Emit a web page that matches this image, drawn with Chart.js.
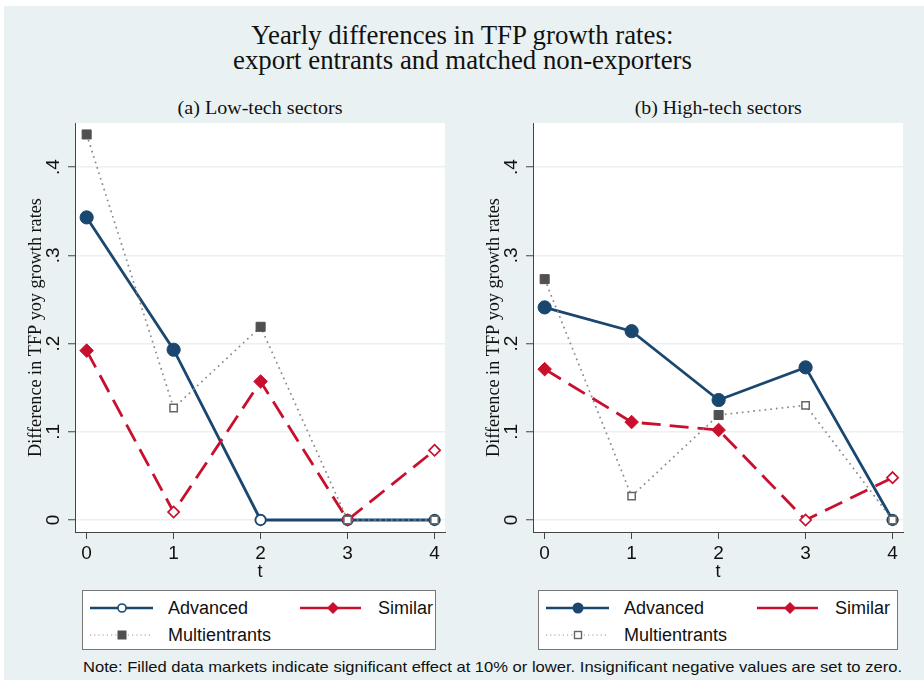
<!DOCTYPE html>
<html>
<head>
<meta charset="utf-8">
<script src="https://cdn.jsdelivr.net/npm/chart.js@4.4.1/dist/chart.umd.min.js"></script>
<style>
  html, body { margin: 0; padding: 0; background: #ffffff; }
  body { width: 924px; height: 680px; position: relative; overflow: hidden; }
  #bg { position: absolute; left: 4px; top: 6px; right: 0; bottom: 0; background: #e9f1f3; }
  .serif { font-family: "Liberation Serif", "Times New Roman", serif; color: #111; }
  .sans { font-family: "Liberation Sans", Arial, sans-serif; color: #111; }
  .line { position: absolute; text-align: center; white-space: nowrap; }
  .line span { display: inline-block; transform-origin: 50% 50%; }
  .t1 { font-size: 28px; line-height: 28px; }
  .sub { font-size: 19px; line-height: 20px; }
  .panel { position: absolute; top: 115px; width: 462px; height: 470px; }
  .legend { position: absolute; top: 590px; height: 60px; background: #fff; border: 1px solid #777; box-sizing: border-box; }
  .legend svg { position: absolute; left: 0; top: 0; }
  .legend span { position: absolute; font-size: 18px; line-height: 20px; }
  #note { position: absolute; left: 83px; top: 658px; font-size: 15px; line-height: 18px; white-space: nowrap; }
  #note span { display: inline-block; transform-origin: 0 50%; }
</style>
</head>
<body>
<div id="bg"></div>
<div class="line serif t1" style="left:0; width:924px; top:21px"><span data-w="422">Yearly differences in TFP growth rates:</span></div>
<div class="line serif t1" style="left:0; width:924px; top:46px"><span data-w="459">export entrants and matched non-exporters</span></div>
<div class="line serif sub" style="left:110px; width:300px; top:98px"><span data-w="165">(a) Low-tech sectors</span></div>
<div class="line serif sub" style="left:568px; width:300px; top:98px"><span data-w="167">(b) High-tech sectors</span></div>

<div class="panel" style="left:0px"><canvas id="lowChart" width="462" height="470"></canvas></div>
<div class="panel" style="left:458px"><canvas id="highChart" width="462" height="470"></canvas></div>

<div class="legend" id="legLow" style="left:82px; width:354px"></div>
<div class="legend" id="legHigh" style="left:538px; width:360px"></div>

<div id="note" class="sans"><span data-w="819">Note: Filled data markets indicate significant effect at 10% or lower. Insignificant negative values are set to zero.</span></div>

<script>
// Years since export entry
const tValues = [0, 1, 2, 3, 4];
const yTicks = [0, 0.1, 0.2, 0.3, 0.4];
const yTickLabels = ['0', '.1', '.2', '.3', '.4'];
const seriesNames = ['Advanced', 'Similar', 'Multientrants'];

// (a) Low-tech sectors
const lowAdvanced = [0.343, 0.193, 0, 0, 0];
const lowAdvancedSig = [true, true, false, false, false];
const lowSimilar = [0.192, 0.009, 0.157, 0, 0.079];
const lowSimilarSig = [true, false, true, false, false];
const lowMulti = [0.437, 0.127, 0.219, 0, 0];
const lowMultiSig = [true, false, true, false, false];

// (b) High-tech sectors
const highAdvanced = [0.241, 0.214, 0.136, 0.173, 0];
const highAdvancedSig = [true, true, true, true, false];
const highSimilar = [0.171, 0.111, 0.102, 0, 0.048];
const highSimilarSig = [true, true, true, false, false];
const highMulti = [0.273, 0.027, 0.119, 0.130, 0];
const highMultiSig = [true, false, true, false, false];

const NAVY = '#1a476f';
const RED = '#c8102e';
const GRAY_LINE = '#8a8a8a';
const GRAY_MARK = '#505050';
const SANS = '"Liberation Sans", Arial, sans-serif';
const SERIF = '"Liberation Serif", "Times New Roman", serif';

function pts(vals) { return tValues.map((t, i) => ({ x: t, y: vals[i] })); }

function advancedSet(vals, sig) {
  return {
    label: seriesNames[0], data: pts(vals), order: 3,
    borderColor: NAVY, borderWidth: 2.8,
    pointStyle: 'circle',
    pointRadius: sig.map(s => s ? 6.6 : 5.2),
    pointBorderWidth: sig.map(s => s ? 1 : 1.9),
    pointBorderColor: NAVY,
    pointBackgroundColor: sig.map(s => s ? NAVY : '#ffffff')
  };
}
function similarSet(vals, sig) {
  return {
    label: seriesNames[1], data: pts(vals), order: 2,
    borderColor: RED, borderWidth: 2.8, borderDash: [19, 9],
    pointStyle: 'rectRot',
    pointRadius: sig.map(s => s ? 6.8 : 5.6),
    pointBorderWidth: sig.map(s => s ? 1 : 1.7),
    pointBorderColor: RED,
    pointBackgroundColor: sig.map(s => s ? RED : '#ffffff')
  };
}
function multiSet(vals, sig) {
  return {
    label: seriesNames[2], data: pts(vals), order: 1,
    borderColor: GRAY_LINE, borderWidth: 1.7, borderDash: [1.7, 4],
    pointStyle: 'rect',
    pointRadius: sig.map(s => s ? 6.4 : 5.2),
    pointBorderWidth: sig.map(s => s ? 1 : 1.5),
    pointBorderColor: sig.map(s => s ? GRAY_MARK : '#666666'),
    pointBackgroundColor: sig.map(s => s ? GRAY_MARK : '#ffffff')
  };
}

// White plot region and rotated y tick labels
const panelPlugin = {
  id: 'panelDecor',
  beforeDraw(chart) {
    const a = chart.chartArea, ctx = chart.ctx;
    ctx.save();
    ctx.fillStyle = '#ffffff';
    ctx.fillRect(a.left, a.top, a.right - a.left, a.bottom - a.top);
    ctx.restore();
  },
  afterDraw(chart) {
    const ys = chart.scales.y, ctx = chart.ctx;
    ctx.save();
    ctx.fillStyle = '#111';
    ctx.font = '19px ' + SANS;
    ctx.textAlign = 'center';
    ctx.textBaseline = 'middle';
    yTicks.forEach((v, i) => {
      const py = ys.getPixelForValue(v);
      ctx.save();
      ctx.translate(ys.right - 21, py);
      ctx.rotate(-Math.PI / 2);
      ctx.fillText(yTickLabels[i], 0, 0);
      ctx.restore();
    });
    ctx.restore();
  }
};

function makeChart(id, datasets) {
  return new Chart(document.getElementById(id), {
    type: 'line',
    data: { datasets },
    plugins: [panelPlugin],
    options: {
      responsive: false,
      animation: false,
      events: [],
      layout: { padding: { top: 8, right: 17, left: 0, bottom: 0 } },
      plugins: { legend: { display: false }, tooltip: { enabled: false } },
      scales: {
        x: {
          type: 'linear', min: -0.134, max: 4.12,
          afterBuildTicks(s) { s.ticks = tValues.map(v => ({ value: v })); },
          afterFit(s) { s.height = 53; },
          grid: { drawOnChartArea: false, tickLength: 7, tickColor: '#444', tickWidth: 1 },
          border: { color: '#444', width: 1 },
          ticks: { font: { family: SANS, size: 19 }, color: '#111', padding: 3, maxRotation: 0,
                   callback: v => String(v) },
          title: { display: true, text: 't', font: { family: SANS, size: 18 }, color: '#111',
                   padding: { top: 0, bottom: 2 } }
        },
        y: {
          type: 'linear', min: -0.0136, max: 0.45,
          afterBuildTicks(s) { s.ticks = yTicks.map(v => ({ value: v })); },
          afterFit(s) { s.width = 75; },
          grid: { color: '#e9f1f3', lineWidth: 1.5, tickLength: 7, tickColor: '#444', tickWidth: 1 },
          border: { color: '#444', width: 1 },
          ticks: { display: false },
          title: { display: true, text: 'Difference in TFP yoy growth rates',
                   font: { family: SERIF, size: 18.2 }, color: '#111',
                   padding: { top: 25, bottom: 0 } }
        }
      }
    }
  });
}

makeChart('lowChart', [
  advancedSet(lowAdvanced, lowAdvancedSig),
  similarSet(lowSimilar, lowSimilarSig),
  multiSet(lowMulti, lowMultiSig)
]);
makeChart('highChart', [
  advancedSet(highAdvanced, highAdvancedSig),
  similarSet(highSimilar, highSimilarSig),
  multiSet(highMulti, highMultiSig)
]);

// Legend keys: line sample with its marker, then the series name
function buildLegend(id, advFilled, multiFilled, col2) {
  const el = document.getElementById(id);
  const w = el.clientWidth, h = el.clientHeight;
  const r1 = 17, r2 = 44;
  const x0 = 7, x1 = 70, mx = 39;
  const s0 = col2 - 78, s1 = col2 - 17, sm = col2 - 45;
  const circ = advFilled
    ? `<circle cx="${mx}" cy="${r1}" r="5.5" fill="${NAVY}"/>`
    : `<circle cx="${mx}" cy="${r1}" r="4" fill="#fff" stroke="${NAVY}" stroke-width="1.6"/>`;
  const sq = multiFilled
    ? `<rect x="${mx - 4.5}" y="${r2 - 4.5}" width="9" height="9" fill="${GRAY_MARK}"/>`
    : `<rect x="${mx - 3.5}" y="${r2 - 3.5}" width="7" height="7" fill="#fff" stroke="#666" stroke-width="1.4"/>`;
  el.innerHTML =
    `<svg width="${w}" height="${h}">
      <line x1="${x0}" y1="${r1}" x2="${x1}" y2="${r1}" stroke="${NAVY}" stroke-width="2.4"/>${circ}
      <line x1="${s0}" y1="${r1}" x2="${s1}" y2="${r1}" stroke="${RED}" stroke-width="2.4"/>
      <polygon points="${sm},${r1 - 6} ${sm + 6},${r1} ${sm},${r1 + 6} ${sm - 6},${r1}" fill="${RED}"/>
      <line x1="${x0}" y1="${r2}" x2="${x1}" y2="${r2}" stroke="#999" stroke-width="1.2" stroke-dasharray="1.2,3"/>${sq}
    </svg>
    <span class="sans" style="left:85px; top:${r1 - 10}px">${seriesNames[0]}</span>
    <span class="sans" style="left:${col2}px; top:${r1 - 10}px">${seriesNames[1]}</span>
    <span class="sans" style="left:85px; top:${r2 - 10}px">${seriesNames[2]}</span>`;
}
buildLegend('legLow', false, true, 295);
buildLegend('legHigh', true, false, 296);

// Fit each text line to its set width by horizontal scaling
function fitText() {
  document.querySelectorAll('span[data-w]').forEach(sp => {
    sp.style.transform = 'none';
    const w = sp.getBoundingClientRect().width;
    if (w > 0) sp.style.transform = `scaleX(${(+sp.dataset.w / w).toFixed(4)})`;
  });
}
fitText();
if (document.fonts && document.fonts.ready) document.fonts.ready.then(fitText);
</script>
</body>
</html>
